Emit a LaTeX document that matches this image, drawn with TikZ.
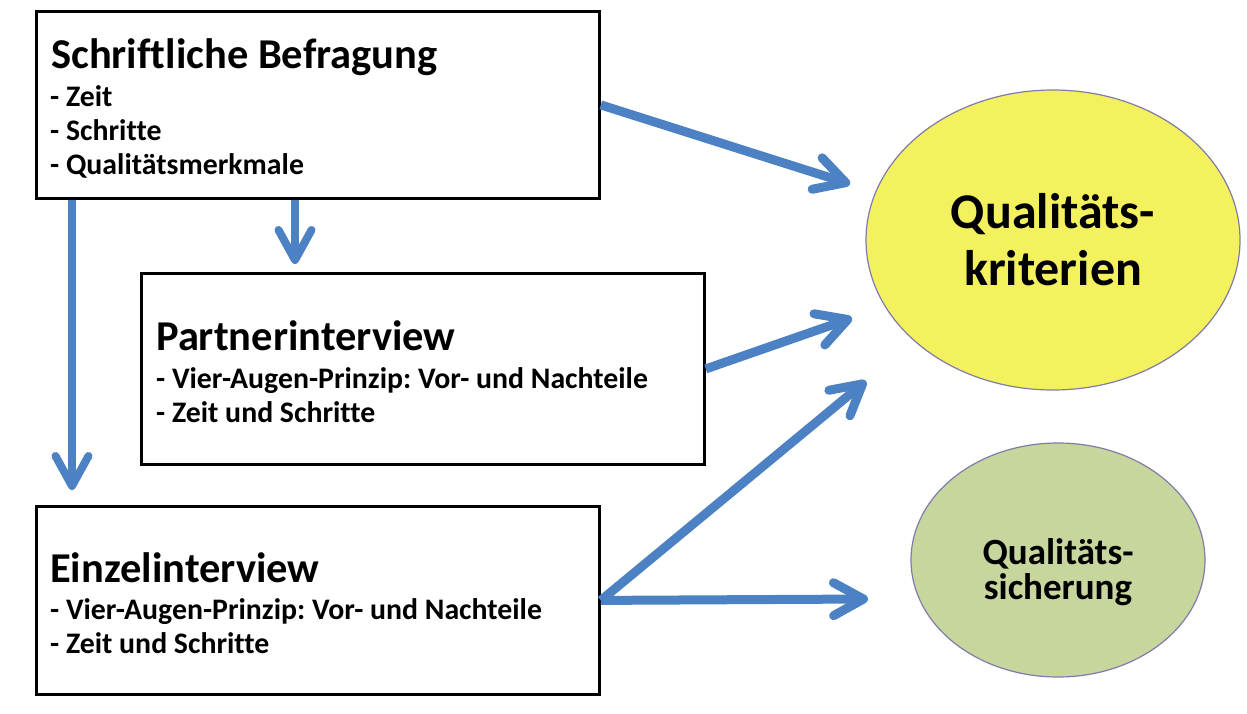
\documentclass[tikz,border=0pt]{standalone}
\usepackage{fontspec}
\setmainfont{Carlito}[Ligatures=CommonOff]
\usetikzlibrary{arrows.meta,shapes.geometric}
\definecolor{arrowblue}{RGB}{76,129,196}
\definecolor{qkyellow}{RGB}{244,241,94}
\definecolor{qsgreen}{RGB}{198,214,156}
\definecolor{ellline}{RGB}{128,124,170}
\frenchspacing
\begin{document}
\begin{tikzpicture}[x=1pt,y=-1pt,
  box/.style={draw=black, line width=2.8pt, fill=white, anchor=north west, inner sep=0pt},
  head/.style={anchor=base west, inner sep=0pt, font=\fontsize{42.5}{42.5}\selectfont\bfseries},
  item/.style={anchor=base west, inner sep=0pt, font=\fontsize{29.8}{29.8}\selectfont\bfseries},
  arr/.style={draw=arrowblue, line width=9pt, -{Straight Barb[length=30pt,width=33pt,round]}},
  varr/.style={arr, line width=8pt},
  oval/.style={ellipse, draw=ellline, line width=1.2pt, inner sep=0pt},
]
\useasboundingbox[fill=white] (0,0) rectangle (1247,713);

% arrow end points
\coordinate (e1) at (850,184);
\coordinate (e2) at (295,264);
\coordinate (e3) at (72,490);
\coordinate (e4) at (852,318);
\coordinate (e5) at (866,381);
\coordinate (e6) at (868,599);

% boxes
\node[box, minimum width=563pt, minimum height=187pt] (b1) at (35,10) {};
\node[box, minimum width=563pt, minimum height=191pt] (b2) at (140,272) {};
\node[box, minimum width=563pt, minimum height=188pt] (b3) at (35,505) {};

% ellipses
\node[oval, fill=qkyellow, minimum width=374pt, minimum height=300pt, align=center,
      font=\fontsize{50}{57}\selectfont\bfseries] (qk) at (1053,240) {Qualitäts-\\kriterien};
\node[oval, fill=qsgreen, minimum width=294pt, minimum height=234pt] (qs) at (1058,560) {};
\node[align=center, inner sep=0pt, font=\fontsize{37}{35}\selectfont\bfseries] (qst) at (1058,572) {Qualitäts-\\sicherung};

% arrows
\draw[arr] (b1.east) -- (e1);
\draw[varr] (e2 |- b1.south) -- (e2);
\draw[varr] (e3 |- b1.south) -- (e3);
\draw[arr] (b2.east) -- (e4);
\draw[arr] (b3.east) -- (e5);
\draw[arr] (b3.east) -- (e6);

% texts
\node[head] (t1) at (51,68) {Schriftliche Befragung};
\node[item] (t1a) at (50,106) {- Zeit};
\node[item] (t1b) at (50,140) {- Schritte};
\node[item] (t1c) at (50,174) {- Qualitätsmerkmale};

\node[head] (t2) at (156,350) {Partnerinterview};
\node[item] (t2a) at (156,388) {- Vier-Augen-Prinzip: Vor- und Nachteile};
\node[item] (t2b) at (156,422) {- Zeit und Schritte};

\node[head] (t3) at (50,582) {Einzelinterview};
\node[item] (t3a) at (50,619) {- Vier-Augen-Prinzip: Vor- und Nachteile};
\node[item] (t3b) at (50,653) {- Zeit und Schritte};
\end{tikzpicture}
\end{document}
